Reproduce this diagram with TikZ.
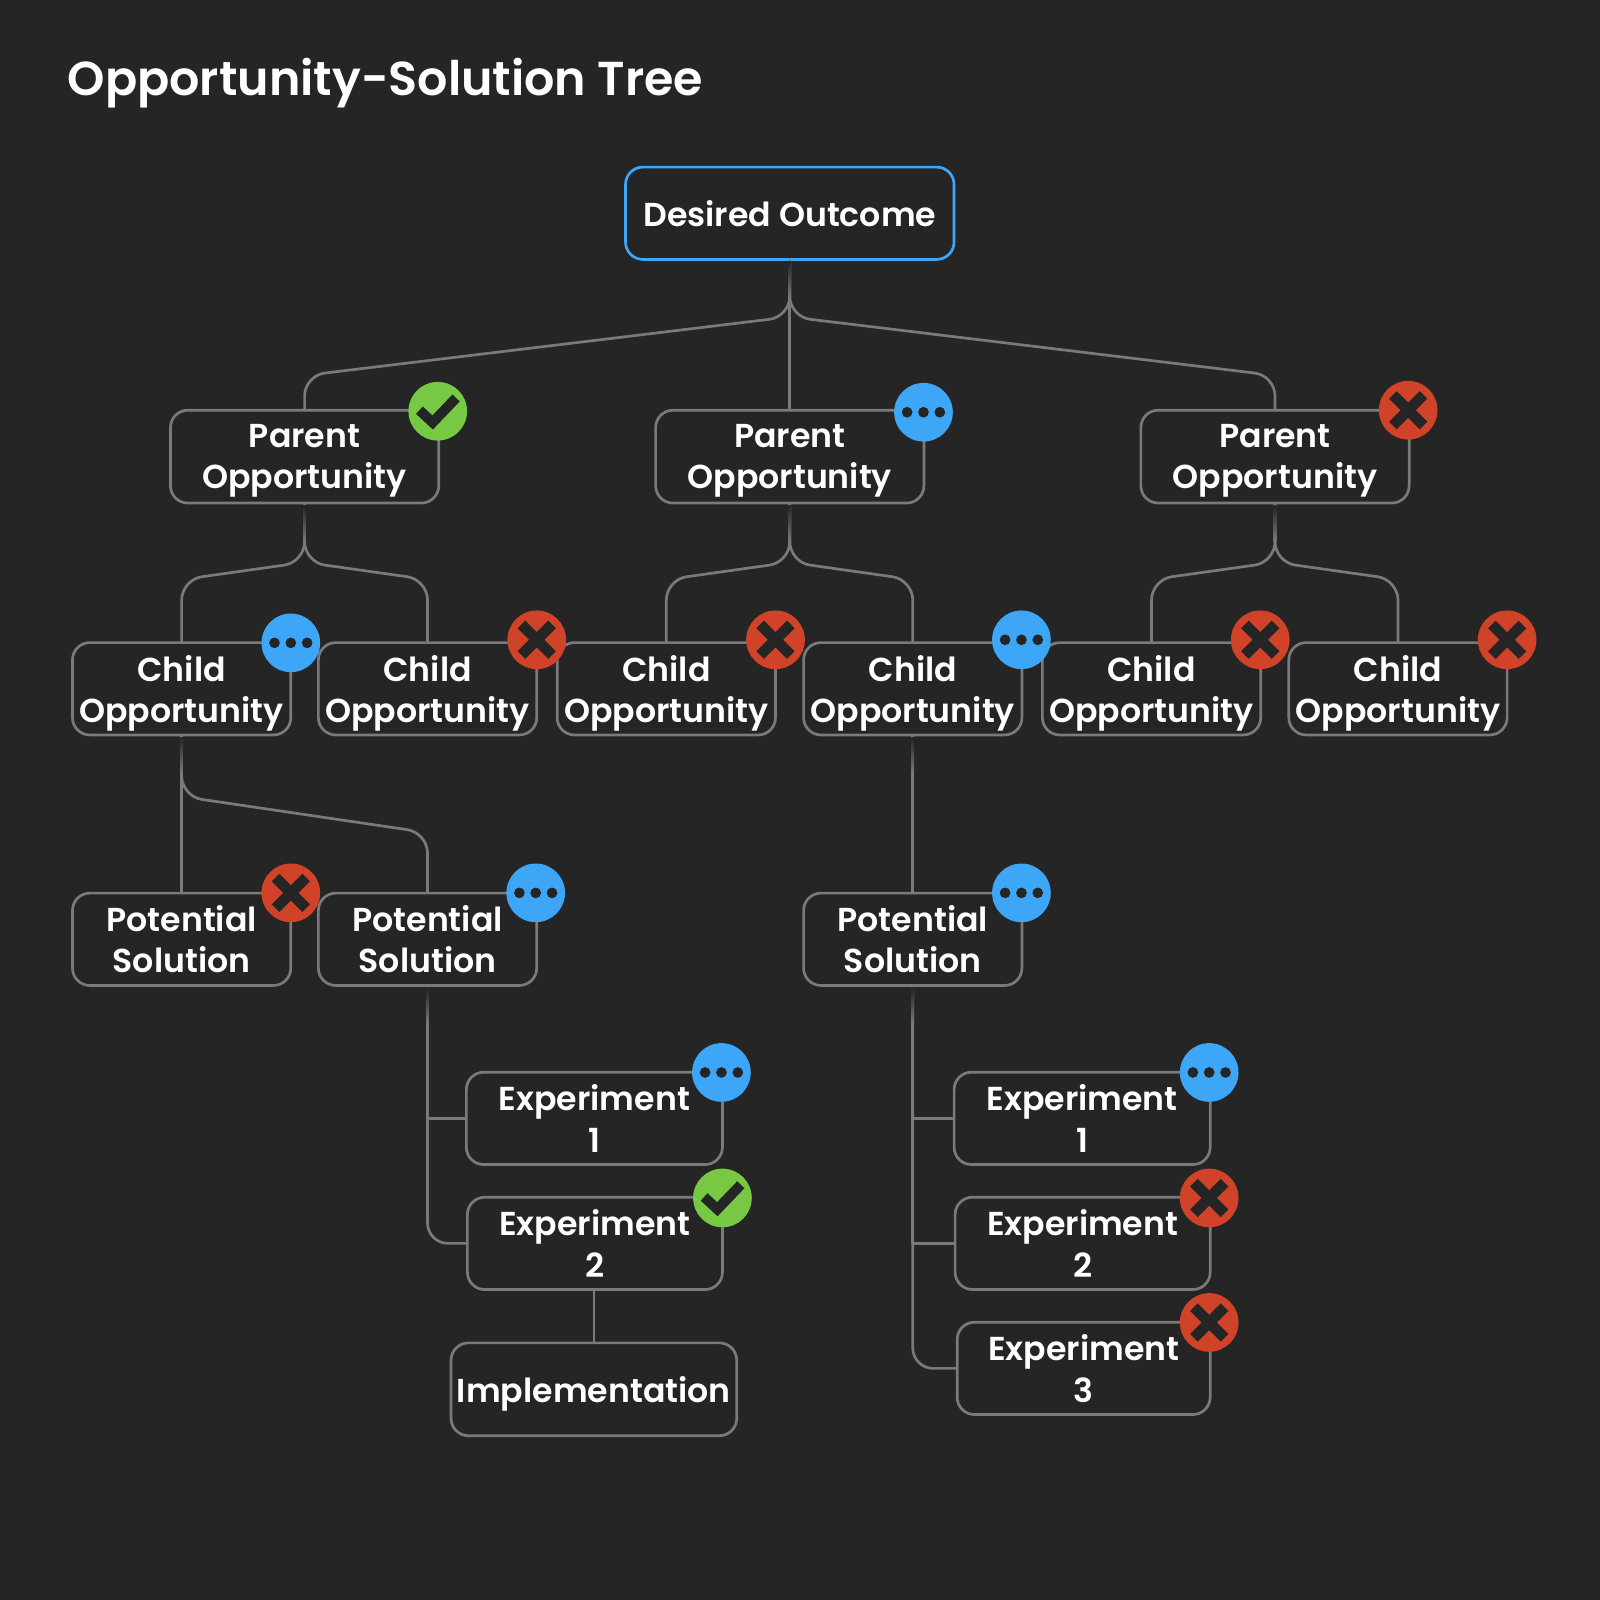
\documentclass[tikz,border=0pt]{standalone}
\usepackage{fontspec}
\setmainfont{Poppins}[UprightFont=* SemiBold]
\usetikzlibrary{positioning}
\definecolor{bgdark}{HTML}{252525}
\definecolor{wiregray}{HTML}{7A7A7A}
\definecolor{okgreen}{HTML}{77C943}
\definecolor{waitblue}{HTML}{3EA6F7}
\definecolor{nored}{HTML}{D14328}
\tikzset{
  treebox/.style={draw=wiregray,line width=1.5pt,rounded corners=0.34cm,fill=bgdark,text=white,align=center,inner sep=0pt,text depth=0pt,font=\fontsize{18.5}{23}\selectfont},
  parentbox/.style={treebox,minimum width=5.26cm,minimum height=1.82cm},
  childbox/.style={treebox,minimum width=4.28cm,minimum height=1.81cm},
  expbox/.style={treebox,minimum width=5cm,minimum height=1.81cm},
  wire/.style={draw=wiregray,line width=1.5pt,rounded corners=0.4cm},
  okbadge/.style={circle,fill=okgreen,minimum size=1.15cm,inner sep=0pt},
  waitbadge/.style={circle,fill=waitblue,minimum size=1.15cm,inner sep=0pt},
  nobadge/.style={circle,fill=nored,minimum size=1.15cm,inner sep=0pt},
  okmark/.pic={\draw [bgdark,line width=5.6pt,line cap=butt,line join=miter] (-18,-1) -- (-5,11) -- (18,-13);},
  waitmark/.pic={\foreach \dx in {-16,0,16} \fill [bgdark] (\dx,0) circle (0.105cm);},
  nomark/.pic={\draw [bgdark,line width=6pt,line cap=butt] (-15,-15) -- (15,15) (-15,15) -- (15,-15);},
  fadestem/.pic={\shade [top color=bgdark,bottom color=wiregray] (-1.32,1) rectangle (1.32,36);}
}
\begin{document}
\begin{tikzpicture}[line cap=round,line join=round,x=0.02cm,y=-0.02cm]
\fill [bgdark] (0,0) rectangle (1568,1568);
\useasboundingbox (0,0) rectangle (1568,1568);
\node (title) [anchor=base west,text=white,inner sep=0pt,font=\fontsize{26.55}{30}\selectfont] at (66,94) {Opportunity-Solution Tree};
\node (goal) [treebox,draw=waitblue,minimum width=6.44cm,minimum height=1.81cm] at (774,209) {Desired Outcome};
\node (parA) [parentbox] at (298.5,447.5) {Parent\\Opportunity};
\node (parB) [parentbox] at (774,447.5) {Parent\\Opportunity};
\node (parC) [parentbox] at (1249.5,447.5) {Parent\\Opportunity};
\node (chdA) [childbox] at (178,675) {Child\\Opportunity};
\node (chdB) [childbox] at (419,675) {Child\\Opportunity};
\node (chdC) [childbox] at (653,675) {Child\\Opportunity};
\node (chdD) [childbox] at (894.5,675) {Child\\Opportunity};
\node (chdE) [childbox] at (1128.5,675) {Child\\Opportunity};
\node (chdF) [childbox] at (1370,675) {Child\\Opportunity};
\node (solA) [childbox] at (178,920.5) {Potential\\Solution};
\node (solB) [childbox] at (419,920.5) {Potential\\Solution};
\node (solC) [childbox] at (894.5,920.5) {Potential\\Solution};
\node (expA) [expbox,minimum width=5.02cm] at (582.5,1096) {Experiment\\1};
\node (expB) [expbox] at (583,1218.5) {Experiment\\2};
\node (impl) [treebox,minimum width=5.6cm,minimum height=1.82cm] at (582,1361.5) {Implementation};
\node (expC) [expbox,minimum width=5.02cm] at (1060.5,1096) {Experiment\\1};
\node (expD) [expbox] at (1061,1218.5) {Experiment\\2};
\node (expE) [expbox,minimum width=4.96cm] at (1062,1341) {Experiment\\3};
\coordinate (splitG) at (774,310.5);
\coordinate (kneeGA) at (298.5,368);
\coordinate (kneeGC) at (1249.5,368);
\coordinate (splitA) at (298.5,551);
\coordinate (kneeAA) at (178,568);
\coordinate (kneeAB) at (419,568);
\coordinate (splitB) at (774,551);
\coordinate (kneeBA) at (653,568);
\coordinate (kneeBB) at (894.5,568);
\coordinate (splitC) at (1249.5,551);
\coordinate (kneeCA) at (1128.5,568);
\coordinate (kneeCB) at (1370,568);
\coordinate (splitS) at (178,780.5);
\coordinate (kneeSB) at (419,816);
\coordinate (elbowB) at (419,1218.5);
\coordinate (elbowE) at (894.5,1341);
\draw [wire] (goal.south) -- (parB.north);
\draw [wire] (goal.south) -- (splitG) -- (kneeGA) -- (parA.north);
\draw [wire] (goal.south) -- (splitG) -- (kneeGC) -- (parC.north);
\draw [wire] (parA.south) -- (splitA) -- (kneeAA) -- (chdA.north);
\draw [wire] (parA.south) -- (splitA) -- (kneeAB) -- (chdB.north);
\draw [wire] (parB.south) -- (splitB) -- (kneeBA) -- (chdC.north);
\draw [wire] (parB.south) -- (splitB) -- (kneeBB) -- (chdD.north);
\draw [wire] (parC.south) -- (splitC) -- (kneeCA) -- (chdE.north);
\draw [wire] (parC.south) -- (splitC) -- (kneeCB) -- (chdF.north);
\draw [wire] (chdA.south) -- (solA.north);
\draw [wire] (chdA.south) -- (splitS) -- (kneeSB) -- (solB.north);
\draw [wire] (chdD.south) -- (solC.north);
\draw [wire,sharp corners] (solB.south) |- (expA.west);
\draw [wire] (solB.south) -- (elbowB) -- (expB.west);
\draw [wire] (impl.north |- expB.south) -- (impl.north);
\draw [wire,sharp corners] (solC.south) |- (expC.west);
\draw [wire,sharp corners] (solC.south) |- (expD.west);
\draw [wire] (solC.south) -- (elbowE) -- (expE.west);
\foreach \src in {goal,parA,parB,parC,chdA,chdD,solB,solC}
  \pic at (\src.south) {fadestem};
\foreach \nm/\bx/\by in {okA/429/403,okB/708/1174}{
  \node (\nm) [okbadge] at (\bx,\by) {};
  \pic at (\nm) {okmark};
}
\foreach \nm/\bx/\by in {waitA/905/404,waitB/285/630,waitC/1001/627,waitD/525/875,waitE/1001/875,waitF/707/1051,waitG/1185/1051}{
  \node (\nm) [waitbadge] at (\bx,\by) {};
  \pic at (\nm) {waitmark};
}
\foreach \nm/\bx/\by in {noA/1380/402,noB/526/627,noC/760/627,noD/1235/627,noE/1477/627,noF/285/875,noG/1185/1174,noH/1185/1296}{
  \node (\nm) [nobadge] at (\bx,\by) {};
  \pic at (\nm) {nomark};
}
\end{tikzpicture}
\end{document}
